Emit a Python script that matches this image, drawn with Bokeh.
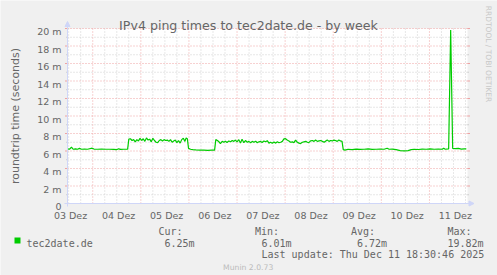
from math import pi
from bokeh.plotting import figure
from bokeh.models import Range1d, Label, Arrow, NormalHead, BoxAnnotation
from bokeh.core.properties import value
from bokeh.embed import file_html
from bokeh.resources import INLINE

# ---------------- data ----------------
# hours since start of the graph window, ping time in milliseconds
hours = [
    0.0, 1.0, 2.0, 2.8, 4.0, 5.0, 6.0, 7.0, 8.5, 10.0, 12.3, 13.2, 15.0, 17.0, 19.0,
    21.0, 23.0, 24.5, 25.5, 26.5, 28.0, 30.0,
    30.6, 31.4, 32.2, 33.0, 33.8, 34.6, 35.4, 36.2, 37.0, 37.8, 38.6, 39.4, 40.2,
    41.0, 41.8, 42.6, 43.4, 44.2, 45.0, 45.8, 46.6, 47.4, 48.2, 49.0, 49.8, 50.6,
    51.4, 52.2, 53.0, 53.8, 54.6, 55.4, 56.2, 57.0, 57.8, 58.6, 59.2, 59.8, 60.4,
    61.4, 62.5, 64.0, 66.0, 68.0, 70.0, 72.0, 73.4,
    74.0, 74.8, 75.6, 76.3, 77.2, 78.0, 78.8, 79.6, 80.5, 81.4, 82.2, 83.0, 83.8,
    84.6, 85.5, 86.3, 87.1, 88.0, 88.8, 89.7, 90.5, 91.4, 92.2, 93.0, 93.9, 94.7,
    95.5, 96.4, 97.1, 98.0, 98.8, 99.7, 100.5, 101.3, 102.2, 103.0, 103.9, 104.7,
    105.5, 106.4, 107.2, 108.0, 108.8, 109.6, 110.5, 111.3, 112.2, 113.0, 113.8,
    114.7, 115.5, 116.3, 117.2, 118.0, 118.9, 119.7, 120.4, 121.3, 122.2, 123.0,
    123.8, 124.7, 125.5, 126.4, 127.2, 128.1, 128.9, 129.6, 130.5, 131.3, 132.2,
    133.0, 133.7, 134.6, 135.4, 136.2, 137.0, 137.6,
    138.5, 140.0, 142.0, 144.0, 146.0, 148.0, 150.0, 152.0, 154.0, 156.0, 158.0,
    159.5, 160.5, 162.0, 164.0, 166.0, 168.0, 170.0, 171.5, 173.0, 175.0, 177.0,
    179.0, 181.0, 183.0, 185.0, 187.0, 187.7, 188.5, 190.2, 191.2, 192.2, 193.5,
    195.0, 196.5, 198.0, 199.0,
]
ping_ms = [
    6.25, 6.20, 6.45, 6.20, 6.25, 6.20, 6.30, 6.20, 6.22, 6.20, 6.32, 6.22, 6.20, 6.22, 6.20,
    6.20, 6.18, 6.15, 6.25, 6.18, 6.20, 6.22,
    7.35, 7.40, 7.20, 7.30, 7.05, 7.30, 7.15, 7.45, 7.20, 7.40, 7.10, 7.50, 7.25,
    7.35, 7.05, 7.45, 7.20, 7.00, 6.95, 7.20, 7.30, 7.15, 7.30, 7.20, 7.25, 7.10,
    7.30, 7.00, 7.15, 7.25, 6.95, 7.20, 6.90, 7.30, 7.45, 7.10, 7.50, 7.40, 6.30,
    6.20, 6.15, 6.12, 6.10, 6.10, 6.08, 6.10, 6.10,
    7.30, 7.20, 7.05, 6.85, 7.10, 7.00, 7.12, 6.98, 7.15, 7.05, 7.20, 7.10, 7.25,
    7.05, 7.30, 6.90, 7.35, 6.95, 7.20, 7.00, 7.10, 6.95, 7.10, 7.00, 7.12, 6.95,
    7.05, 7.10, 6.98, 7.15, 7.05, 7.18, 6.90, 7.00, 6.88, 7.02, 6.90, 7.05,
    6.95, 7.00, 7.10, 7.38, 7.42, 7.25, 7.15, 7.00, 7.05, 6.95, 7.25,
    7.00, 6.90, 6.85, 7.00, 7.05, 7.10, 7.00, 6.95, 7.15, 7.20, 7.10,
    7.25, 7.10, 7.15, 7.20, 7.10, 7.00, 7.15, 7.25, 7.10, 7.20, 7.15,
    7.25, 7.20, 7.10, 7.25, 7.15, 7.10, 6.15,
    6.10, 6.20, 6.15, 6.22, 6.18, 6.20, 6.25, 6.18, 6.20, 6.22, 6.20,
    6.32, 6.20, 6.22, 6.15, 6.05, 6.02, 6.04, 6.15, 6.20, 6.17, 6.22,
    6.20, 6.24, 6.20, 6.22, 6.20, 6.32, 6.20, 6.25, 19.82, 6.30, 6.28,
    6.30, 6.22, 6.25, 6.25,
]

y_ticks = [0, 2, 4, 6, 8, 10, 12, 14, 16, 18, 20]
y_tick_labels = ["0", "2 m", "4 m", "6 m", "8 m", "10 m", "12 m", "14 m", "16 m", "18 m", "20 m"]
y_minor = [1, 3, 5, 7, 9, 11, 13, 15, 17, 19]

day_labels = ["03 Dez", "04 Dez", "05 Dez", "06 Dez", "07 Dez", "08 Dez", "09 Dez", "10 Dez", "11 Dez"]
day_label_hours = [1.5, 25.5, 49.5, 73.5, 97.5, 121.5, 145.5, 169.5, 193.5]
major_grid_hours = [12.6, 36.6, 60.6, 84.6, 108.6, 132.6, 156.6, 180.6]
minor_grid_hours = [h for h in [0.6 + 6 * k for k in range(34)] if (h - 12.6) % 24 != 0]

series_name = "tec2date.de"
stat_names = ["Cur:", "Min:", "Avg:", "Max:"]
stat_values = ["6.25m", "6.01m", "6.72m", "19.82m"]
last_update = "Last update: Thu Dec 11 18:30:46 2025"
title_text = "IPv4 ping times to tec2date.de - by week"
y_title = "roundtrip time (seconds)"
side_text = "RRDTOOL / TOBI OETIKER"
footer_text = "Munin 2.0.73"

# ---------------- geometry ----------------
W, H = 497, 275
L, B = 67, 203            # plot area left / bottom (canvas px)
X_SPAN, Y_SPAN = 199.6, 20.0
PXH = 400 / X_SPAN        # px per hour
PXV = 175 / Y_SPAN        # px per ms


def hx(cx):  # canvas x -> data hours
    return (cx - L) / PXH


def vy(cy):  # canvas y -> data ms
    return (B - cy) / PXV


FONT = "#666666"
AXIS = "#CFD6F8"
MGRID = "#eea3a3"
GRID = "#cfcfcf"

p = figure(width=W, height=H, x_range=Range1d(hx(0), hx(W)), y_range=Range1d(vy(H), vy(0)),
           output_backend="svg", toolbar_location=None, min_border=0,
           background_fill_color="#F0F0F0", border_fill_color="#F0F0F0",
           outline_line_color=None, x_axis_type=None, y_axis_type=None)
p.xgrid.visible = False
p.ygrid.visible = False

# canvas (white plot area)
p.quad(left=[0], right=[X_SPAN], bottom=[0], top=[Y_SPAN], fill_color="white", line_color=None)

# grid lines
p.segment(x0=minor_grid_hours, y0=[0] * len(minor_grid_hours),
          x1=minor_grid_hours, y1=[Y_SPAN] * len(minor_grid_hours),
          line_color=GRID, line_width=1, line_dash="1 2")
p.segment(x0=[0] * len(y_minor), y0=y_minor, x1=[X_SPAN] * len(y_minor), y1=y_minor,
          line_color=GRID, line_width=1, line_dash="1 2")
p.segment(x0=major_grid_hours, y0=[0] * len(major_grid_hours),
          x1=major_grid_hours, y1=[Y_SPAN] * len(major_grid_hours),
          line_color=MGRID, line_width=1, line_dash="1 2")
p.segment(x0=[0] * len(y_ticks), y0=y_ticks, x1=[X_SPAN] * len(y_ticks), y1=y_ticks,
          line_color=MGRID, line_width=1, line_dash="1 2")
# tick marks on both sides of the plot area
p.segment(x0=[hx(64.5)] * len(y_ticks), y0=y_ticks, x1=[0] * len(y_ticks), y1=y_ticks,
          line_color=MGRID, line_width=1)
p.segment(x0=[X_SPAN] * len(y_ticks), y0=y_ticks, x1=[hx(469.5)] * len(y_ticks), y1=y_ticks,
          line_color=MGRID, line_width=1)
p.segment(x0=[hx(65.5)] * len(y_minor), y0=y_minor, x1=[0] * len(y_minor), y1=y_minor,
          line_color=GRID, line_width=1)
p.segment(x0=[X_SPAN] * len(y_minor), y0=y_minor, x1=[hx(468.5)] * len(y_minor), y1=y_minor,
          line_color=GRID, line_width=1)

# axes with arrows
p.add_layout(Arrow(end=NormalHead(size=5, fill_color=AXIS, line_color=AXIS),
                   x_start=0, y_start=vy(206), x_end=0, y_end=vy(21),
                   line_color=AXIS, line_width=1))
p.add_layout(Arrow(end=NormalHead(size=5, fill_color=AXIS, line_color=AXIS),
                   x_start=hx(64), y_start=0, x_end=hx(473.5), y_end=0,
                   line_color=AXIS, line_width=1))

# tick labels
p.text(x=[hx(61)] * len(y_ticks), y=[t - 3.2 / PXV for t in y_ticks], text=y_tick_labels,
       text_font=value("DejaVu Sans"), text_font_size=value("9.5px"), text_color=FONT,
       text_align="right", text_baseline="alphabetic")
p.text(x=day_label_hours, y=[vy(215)] * len(day_label_hours), text=day_labels,
       text_font=value("DejaVu Sans"), text_font_size=value("9.5px"), text_color=FONT,
       text_align="center", text_baseline="alphabetic")

# data
p.line(hours, ping_ms, line_color="#00CC00", line_width=1.2)


def lab(text, cx, cy, size, font="DejaVu Sans", color=FONT, align="left",
        baseline="alphabetic", angle=0):
    p.add_layout(Label(x=cx, y=H - cy, x_units="screen", y_units="screen", text=text,
                       text_font=font, text_font_size=size, text_color=color,
                       text_align=align, text_baseline=baseline, angle=angle))


lab(title_text, 248, 24.5, "12.6px", align="center")
lab(y_title, 14.5, 115.5, "11px", align="center", baseline="middle", angle=pi / 2)
lab(side_text, 488, 53.5, "7.5px", color="#c8c8c8", align="center", baseline="middle",
    angle=-pi / 2)

MONO = "DejaVu Sans Mono"
p.add_layout(BoxAnnotation(left=14, right=20, top=H - 237, bottom=H - 243,
                           left_units="screen", right_units="screen",
                           top_units="screen", bottom_units="screen",
                           fill_color="#00CC00", fill_alpha=1, line_color=None))
lab(series_name, 26, 243.3, "10px", font=MONO)
for name, v, nx, vx in zip(stat_names, stat_values, [158, 254.5, 350.5, 447],
                           [164, 261, 356.5, 447]):
    lab(name, nx, 231.3, "10px", font=MONO)
    lab(v, vx, 243.3, "10px", font=MONO)
lab(last_update, 261, 254.3, "10px", font=MONO)
lab(footer_text, 222.5, 266.5, "7.7px", color="#bbbbbb")

open("out.html", "w").write(file_html(p, INLINE))
